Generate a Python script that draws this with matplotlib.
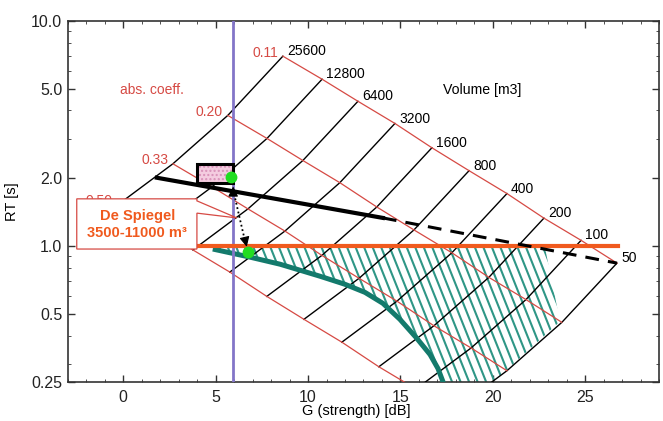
import numpy as np
import matplotlib
matplotlib.use("Agg")
import matplotlib.pyplot as plt
from matplotlib.patches import Polygon, Rectangle
from matplotlib.ticker import MultipleLocator, LogLocator, NullFormatter

plt.rcParams["font.family"] = ["Liberation Sans", "DejaVu Sans"]

# volume lines: node on the alpha = 0.11 line
volumes = [25600, 12800, 6400, 3200, 1600, 800, 400, 200, 100, 50]
vol_G = [8.64, 10.76, 12.70, 14.70, 16.70, 18.71, 20.76, 22.76, 24.77, 26.71]
vol_T = [6.96, 5.50, 4.39, 3.50, 2.73, 2.16, 1.71, 1.33, 1.06, 0.84]

# absorption lines: shift of the nodes relative to the 0.11 line
alpha_labels = ["0.11", "0.20", "0.33", "0.50"]
alpha_dG = [0.0, -2.98, -5.95, -8.93]
alpha_Tf = [1.0, 0.546, 0.333, 0.219]

# measured hall
hall_G = [1.82, 14.05]
hall_T = [2.01, 1.333]
hall_dash_G = [14.05, 26.71]
hall_dash_T = [1.333, 0.84]
target_T = 1.0
target_G = [3.99, 26.77]
listener_G = 5.95
box_G = [4.0, 5.95]
box_T = [1.91, 2.32]
dot_G = [5.83, 6.73]
dot_T = [2.02, 0.94]

# recommended region
curve_G = [4.85, 6.86, 8.48, 10.64, 11.99, 13.08, 14.05, 14.97, 15.89, 16.6, 17.03, 17.30, 17.35]
curve_T = [0.970, 0.893, 0.831, 0.735, 0.677, 0.623, 0.557, 0.473, 0.389, 0.330, 0.286, 0.25, 0.24]
edge_G = [22.82, 23.63, 20.71, 19.85, 19.4]
edge_T = [0.98, 0.463, 0.280, 0.245, 0.23]

RED = "#d64a44"
TEAL = "#137a6c"
HATCH = "#2f9686"
ORANGE = "#f05a1e"
PURPLE = "#8375c8"

fig = plt.figure(figsize=(6.63, 4.21), dpi=100)
ax = fig.add_axes([0.1021, 0.0933, 0.8923, 0.8575])
ax.set_yscale("log")
ax.set_xlim(-3, 29)
ax.set_ylim(0.25, 10)

G = np.array(vol_G)[None, :] + np.array(alpha_dG)[:, None]
T = np.array(vol_T)[None, :] * np.array(alpha_Tf)[:, None]

for i in range(len(volumes)):
    ax.plot(G[:, i], T[:, i], color="black", lw=1.0, zorder=3)
    ax.annotate(str(volumes[i]), (G[0, i], T[0, i]), xytext=(3, 3.5),
                textcoords="offset points", ha="left", va="center", fontsize=10)
for j in range(len(alpha_labels)):
    ax.plot(G[j], T[j], color=RED, lw=0.9, zorder=3)
    ax.annotate(alpha_labels[j], (G[j, 0], T[j, 0]), xytext=(-3.5, 2.5),
                textcoords="offset points", ha="right", va="center",
                fontsize=10, color=RED)

ax.text(1.55, 4.91, "abs. coeff.", color=RED, fontsize=10, ha="center", va="center")
ax.text(19.4, 4.91, "Volume [m3]", fontsize=10.2, ha="center", va="center")

# hatched region
region = [(curve_G[0], 0.98)] + list(zip(edge_G, edge_T)) + list(zip(curve_G[::-1], curve_T[::-1]))
poly = Polygon(region, closed=True, facecolor="none", edgecolor="none",
               transform=ax.transData)
ax.add_patch(poly)
for x0 in np.arange(-0.3, 1.0, 0.0144):
    ln, = ax.plot([x0, x0 + 0.244], [1, 0], transform=ax.transAxes,
                  color=HATCH, lw=1.5, zorder=2)
    ln.set_clip_path(poly)

ax.plot(curve_G, curve_T, color=TEAL, lw=3.6, zorder=4, solid_capstyle="butt")
ax.plot(target_G, [target_T, target_T], color=ORANGE, lw=3, zorder=5)
ax.axvline(listener_G, color=PURPLE, lw=2, zorder=4)

ax.plot(hall_G, hall_T, color="black", lw=3, zorder=6)
ax.plot(hall_dash_G, hall_dash_T, color="black", lw=2.2, zorder=6,
        dashes=(4.5, 3))

ax.add_patch(Rectangle((box_G[0], box_T[0]), box_G[1] - box_G[0], box_T[1] - box_T[0],
                       facecolor="#f4cce0", edgecolor="#d890b8", hatch="....",
                       lw=0, zorder=6))
ax.add_patch(Rectangle((box_G[0], box_T[0]), box_G[1] - box_G[0], box_T[1] - box_T[0],
                       facecolor="none", edgecolor="black", lw=2.2, zorder=7))

ax.plot(dot_G, dot_T, "o", color="#22dd22", ms=7.5, zorder=9)

# arrows between the two states
ax.plot([5.95, 6.3, 6.62], [1.78, 1.333, 1.03], color="black", lw=1.3,
        ls=(0, (1, 1.5)), zorder=8)
ax.annotate("", xy=(5.95, 1.89), xytext=(5.95, 1.70),
            arrowprops=dict(arrowstyle="-|>", color="black", lw=0.8,
                            mutation_scale=15), zorder=8)
ax.annotate("", xy=(6.72, 0.965), xytext=(6.58, 1.08),
            arrowprops=dict(arrowstyle="-|>", color="black", lw=0.8,
                            mutation_scale=15), zorder=8)

# callout
callout = [(-2.51, 0.97), (-2.51, 1.62), (3.99, 1.62), (3.99, 1.587),
           (6.15, 1.333), (3.99, 1.40), (3.99, 0.97)]
ax.add_patch(Polygon(callout, closed=True, facecolor="white", edgecolor=RED,
                     lw=0.9, zorder=10))
ax.text(0.77, 1.36, "De Spiegel", color=ORANGE, fontsize=10.5, weight="bold",
        ha="center", va="center", zorder=11)
ax.text(0.77, 1.14, "3500-11000 m³", color=ORANGE, fontsize=10.5, weight="bold",
        ha="center", va="center", zorder=11)

ax.set_xticks([0, 5, 10, 15, 20, 25])
ax.xaxis.set_minor_locator(MultipleLocator(1))
ax.set_yticks([0.25, 0.5, 1, 2, 5, 10])
ax.set_yticklabels(["0.25", "0.5", "1.0", "2.0", "5.0", "10.0"])
ax.yaxis.set_minor_locator(LogLocator(subs=np.arange(2, 10)))
ax.yaxis.set_minor_formatter(NullFormatter())
ax.tick_params(which="both", direction="in", top=True, right=True, colors="#333333")
ax.tick_params(which="major", length=5, width=1, labelsize=11.5, labelcolor="#222222")
ax.tick_params(which="minor", length=2.5, width=0.6)
ax.tick_params(axis="x", pad=6)
ax.tick_params(axis="y", pad=4)
for s in ax.spines.values():
    s.set_color("#333333")
    s.set_linewidth(1.2)

ax.set_xlabel("G (strength) [dB]", fontsize=10.5)
ax.set_ylabel("RT [s]", fontsize=10.5)
ax.xaxis.set_label_coords(0.487, -0.062)
ax.yaxis.set_label_coords(-0.082, 0.5)

fig.savefig("out.png", dpi=100)
